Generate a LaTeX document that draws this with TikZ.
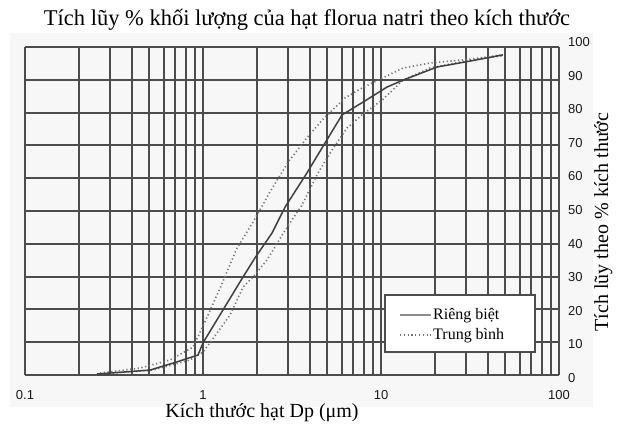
\documentclass[tikz,border=0pt]{standalone}
\usepackage{fontspec}
\setmainfont{Liberation Serif}
\newfontfamily\ticksf{Liberation Sans}
\usetikzlibrary{positioning}

\tikzset{
  gridline/.style={black!70, line width=2pt},
  rieng/.style={black!75, line width=1.5pt, line join=round},
  trungbinh/.style={black!55, line width=1.6pt, dash pattern=on 1.2pt off 2.6pt},
  ticklabel/.style={font=\ticksf\fontsize{13}{13}\selectfont, text=black!90, inner sep=0pt},
  legendtext/.style={font=\fontsize{16}{16}\selectfont, anchor=base west, inner sep=0pt},
}

\begin{document}
\begin{tikzpicture}[x=1pt, y=1pt]
    \useasboundingbox (0,0) rectangle (618,429);
    \fill[black!3] (10,22) rectangle (593,396);

    % Title and axis names
    \node[anchor=base, font=\fontsize{22.5}{22.5}\selectfont, inner sep=0pt] (title) at (307,403) {Tích lũy \% khối lượng của hạt florua natri theo kích thước};
    \node[anchor=base, font=\fontsize{20}{20}\selectfont, inner sep=0pt] (xname) at (262,12) {Kích thước hạt Dp (μm)};
    \node[anchor=base, rotate=90, font=\fontsize{20}{20}\selectfont, inner sep=0pt] (yname) at (608,207) {Tích lũy theo \% kích thước};

    \begin{scope}[shift={(25pt,54pt)}, x=178pt, y=3.28pt]
      % Draw log grid
      \foreach \d in {0,1,2} {
        \foreach \m in {1,...,9} {
          \draw[gridline] ({\d+log10(\m)},0) -- ({\d+log10(\m)},100);
        }
      }
      \draw[gridline] (3,0) -- (3,100);
      \foreach \p in {0,10,...,100} {
        \draw[gridline] (0,\p) -- (3,\p);
        \node[ticklabel, anchor=west] (y\p) at (3.05,{1.024*\p-0.9}) {\p};
      }
      \foreach \i/\x in {0/0.1, 1/1, 2/10, 3/100} {
        \node[ticklabel] (x\i) at (\i,-6.2) {\x};
      }

      % Data: Trung binh
      \draw[trungbinh] plot coordinates {(0.421,0.6) (0.646,2.1) (0.815,4.6) (0.944,8.5) (1.011,16.2) (1.096,26.5) (1.191,38.7) (1.281,46.6) (1.376,55.8) (1.478,64.9) (1.584,72.3) (1.669,77.7) (1.798,84.5) (1.893,87.5) (2.006,90.5) (2.124,93.6) (2.275,95.1) (2.5,96.3) (2.685,97.6)};
      \draw[trungbinh] plot coordinates {(0.494,0.6) (0.719,1.5) (0.927,4.6) (1.0,7.0) (1.051,10.7) (1.152,18.3) (1.225,26.8) (1.281,29.9) (1.36,35.1) (1.46,44) (1.556,51.8) (1.646,61.6) (1.725,68.6) (1.809,75.3) (1.893,79.3) (2.006,83.8) (2.124,89.9) (2.275,93.6) (2.5,96.0) (2.685,97.3)};

      % Data: Rieng biet
      \draw[rieng] plot coordinates {(0.404,0.3) (0.702,1.5) (0.854,4.0) (0.972,6.1) (1.0,9.8) (1.112,19.8) (1.225,29.9) (1.292,35.7) (1.388,43.3) (1.461,51.2) (1.584,61.6) (1.685,70.7) (1.781,79.3) (1.899,83.2) (2.034,87.8) (2.124,89.9) (2.315,93.9) (2.5,95.7) (2.685,97.6)};
    \end{scope}

    % Legend
    \node[draw=black!70, line width=1.8pt, fill=white, minimum width=150pt, minimum height=57pt] (legend) at (460,105.5) {};
    \coordinate (r1) at (400,114);
    \coordinate (r2) at (431,114);
    \coordinate (t1) at (400,94);
    \coordinate (t2) at (431,94);
    \draw[black!45, line width=2.2pt] (r1) -- (r2);
    \draw[trungbinh] (t1) -- (t2);
    \node[legendtext] (lrieng) at (433,110) {Riêng biệt};
    \node[legendtext] (ltrung) at (433,90) {Trung bình};
\end{tikzpicture}
\end{document}
